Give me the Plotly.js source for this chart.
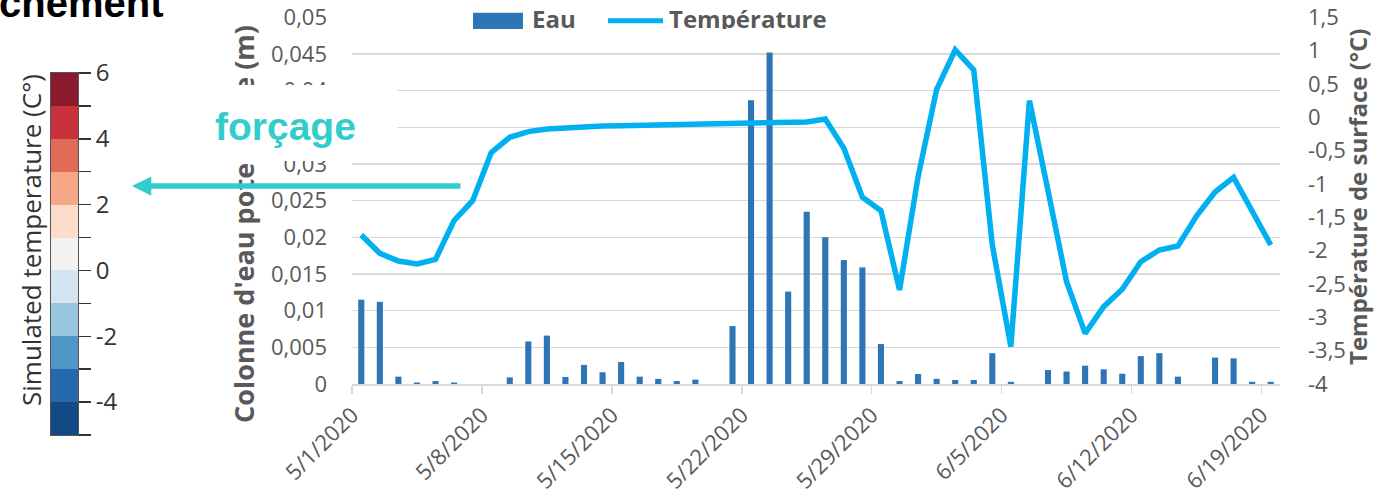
<!DOCTYPE html>
<html><head><meta charset="utf-8">
<script src="https://cdn.plot.ly/plotly-3.0.1.min.js"></script>
<style>html,body{margin:0;padding:0;background:#fff;overflow:hidden}#chart{width:1388px;height:502px}</style>
</head><body><div id="chart"></div>
<script>
const dates = ['2020-05-01','2020-05-02','2020-05-03','2020-05-04','2020-05-05','2020-05-06','2020-05-07','2020-05-08','2020-05-09','2020-05-10',
  '2020-05-11','2020-05-12','2020-05-13','2020-05-14','2020-05-15','2020-05-16','2020-05-17','2020-05-18','2020-05-19','2020-05-20',
  '2020-05-21','2020-05-22','2020-05-23','2020-05-24','2020-05-25','2020-05-26','2020-05-27','2020-05-28','2020-05-29','2020-05-30',
  '2020-05-31','2020-06-01','2020-06-02','2020-06-03','2020-06-04','2020-06-05','2020-06-06','2020-06-07','2020-06-08','2020-06-09',
  '2020-06-10','2020-06-11','2020-06-12','2020-06-13','2020-06-14','2020-06-15','2020-06-16','2020-06-17','2020-06-18','2020-06-19'];
const eau = [0.0115,0.0112,0.0010,0.0002,0.0004,0.0002,0,0,0.0009,0.0058,
  0.0066,0.00095,0.0026,0.0016,0.0030,0.0010,0.0007,0.0004,0.0006,0,
  0.0079,0.0387,0.0452,0.0126,0.0235,0.0200,0.0169,0.0159,0.00545,0.0004,
  0.00136,0.0007,0.00055,0.00055,0.0042,0.0003,0,0.0019,0.0017,0.0025,
  0.0020,0.0014,0.0038,0.0042,0.0010,0,0.0036,0.0035,0.0003,0.0003];
const temperature = [-1.765,-2.04,-2.155,-2.2,-2.13,-1.55,-1.25,-0.53,-0.3,-0.215,
  -0.175,-0.155,-0.14,-0.13,-0.125,-0.12,-0.115,-0.11,-0.11,-0.105,
  -0.105,-0.1,-0.095,-0.09,-0.07,-0.025,-0.465,-1.2,-1.4,-2.59,
  -0.89,0.42,1.01,0.71,-1.915,-3.44,0.25,-1.1,-2.465,-3.24,
  -2.84,-2.58,-2.165,-1.99,-1.93,-1.48,-1.12,-0.9,-1.415,-1.915];
const xTickVals = ['2020-05-01','2020-05-08','2020-05-15','2020-05-22','2020-05-29','2020-06-05','2020-06-12','2020-06-19'];
const xTickText = ['5/1/2020','5/8/2020','5/15/2020','5/22/2020','5/29/2020','6/5/2020','6/12/2020','6/19/2020'];
const eauTickVals = [0,0.005,0.01,0.015,0.02,0.025,0.03,0.035,0.04,0.045,0.05];
const eauTickText = ['0','0,005','0,01','0,015','0,02','0,025','0,03','0,035','0,04','0,045','0,05'];
const tempTickVals = [-4,-3.5,-3,-2.5,-2,-1.5,-1,-0.5,0,0.5,1,1.5];
const tempTickText = ['-4','-3,5','-3','-2,5','-2','-1,5','-1','-0,5','0','0,5','1','1,5'];
const cbCenters = [-4.5,-3.5,-2.5,-1.5,-0.5,0.5,1.5,2.5,3.5,4.5,5.5];
const cbColors = ['#134a86','#2569ae','#4e97c8','#9ac7e0','#d4e4f0','#f4f2f0','#fcdccb','#f6a886','#e06b57','#c8323a','#8c1a2e'];
const cbTickVals = [-5,-4,-3,-2,-1,0,1,2,3,4,5,6];
const cbTickText = ['','-4','','-2','','0','','2','','4','','6'];

const W = 1388, H = 502;
const px = x => x / W;
const py = y => 1 - y / H;
const GRAY = '#595959';
const TEAL = '#33cccc';

const cbScale = cbColors.map((c, i) => [i / (cbColors.length - 1), c]);

const traces = [
  { type: 'bar', x: dates, y: eau, name: 'Eau', xperiod: 86400000, xperiodalignment: 'middle',
    width: 0.33 * 86400000, marker: { color: '#2e75b6' }, xaxis: 'x', yaxis: 'y', hoverinfo: 'skip' },
  { type: 'scatter', mode: 'lines', x: dates, y: temperature, name: 'Température', xperiod: 86400000, xperiodalignment: 'middle',
    line: { color: '#00b0f0', width: 5.5 }, xaxis: 'x', yaxis: 'y2', hoverinfo: 'skip' },
  { type: 'heatmap', x: [0], y: cbCenters, z: cbCenters.map((v, i) => [i]), zmin: 0, zmax: cbColors.length - 1,
    colorscale: cbScale, showscale: false, xaxis: 'x2', yaxis: 'y3', hoverinfo: 'skip' }
];

const layout = {
  width: W, height: H, margin: { l: 0, r: 0, t: 0, b: 0 },
  paper_bgcolor: '#fff', plot_bgcolor: '#fff', showlegend: false,
  font: { family: 'Open Sans, sans-serif', color: GRAY, size: 22 },
  xaxis: { domain: [px(352), px(1280)], anchor: 'y', type: 'date', range: ['2020-05-01', '2020-06-20'],
    tickvals: xTickVals, ticktext: xTickText, tickangle: -45, ticks: 'outside', ticklen: 8, tickwidth: 1.5,
    tickcolor: '#d9d9d9', showline: true, linecolor: '#d9d9d9', linewidth: 1.5, showgrid: false, zeroline: false,
    tickfont: { size: 22, color: GRAY }, automargin: false },
  yaxis: { domain: [py(384), py(17.3)], anchor: 'x', range: [0, 0.05], tickvals: eauTickVals, ticktext: eauTickText,
    showgrid: true, gridcolor: '#d9d9d9', gridwidth: 1.5, zeroline: false, showline: false, ticks: '',
    ticklabelstandoff: 24, tickfont: { size: 22, color: GRAY }, automargin: false },
  yaxis2: { overlaying: 'y', side: 'right', anchor: 'x', range: [-4, 1.5], tickvals: tempTickVals, ticktext: tempTickText,
    showgrid: false, zeroline: false, showline: false, ticks: '', ticklabelstandoff: 27,
    tickfont: { size: 22, color: GRAY }, automargin: false },
  xaxis2: { domain: [px(51), px(78)], anchor: 'y3', range: [-0.5, 0.5], showticklabels: false, ticks: '',
    showgrid: false, zeroline: false, showline: true, mirror: true, linecolor: '#555', linewidth: 1, automargin: false },
  yaxis3: { domain: [py(435), py(73)], anchor: 'x2', side: 'right', range: [-5, 6], tickvals: cbTickVals, ticktext: cbTickText,
    ticks: 'outside', ticklen: 12, tickwidth: 1.5, tickcolor: '#333', showgrid: false, zeroline: false,
    showline: true, mirror: true, linecolor: '#555', linewidth: 1, tickfont: { size: 24, color: '#333' }, automargin: false },
  shapes: [
    { type: 'rect', xref: 'paper', yref: 'paper', layer: 'above', x0: px(173), x1: px(397), y0: py(161), y1: py(85),
      fillcolor: '#fff', line: { width: 0 } },
    { type: 'rect', xref: 'paper', yref: 'paper', layer: 'above', x0: px(433), x1: px(857), y0: py(29), y1: py(3),
      fillcolor: '#fff', line: { width: 0 } },
    { type: 'rect', xref: 'paper', yref: 'paper', layer: 'above', x0: px(473), x1: px(523), y0: py(29.3), y1: py(12.7),
      fillcolor: '#2e75b6', line: { width: 0 } },
    { type: 'line', xref: 'paper', yref: 'paper', layer: 'above', x0: px(608), x1: px(663), y0: py(20.7), y1: py(20.7),
      line: { color: '#00b0f0', width: 5 } }
  ],
  annotations: [
    { text: '<b>chement</b>', xref: 'paper', yref: 'paper', x: px(-3), y: py(3), xanchor: 'left', yanchor: 'middle',
      showarrow: false, font: { family: 'Liberation Sans, Arial, sans-serif', size: 40, color: '#000' } },
    { text: "<b>Colonne d'eau potentielle (m)</b>", xref: 'paper', yref: 'paper', x: px(243), y: py(224), textangle: -90,
      xanchor: 'center', yanchor: 'middle', showarrow: false, font: { size: 27, color: GRAY } },
    { text: '<b>Température de surface (°C)</b>', xref: 'paper', yref: 'paper', x: px(1357), y: py(197), textangle: -90,
      xanchor: 'center', yanchor: 'middle', showarrow: false, font: { size: 24, color: GRAY } },
    { text: 'Simulated temperature (C°)', xref: 'paper', yref: 'paper', x: px(31), y: py(240), textangle: -90,
      xanchor: 'center', yanchor: 'middle', showarrow: false, font: { size: 26, color: '#333' } },
    { text: ' ', xref: 'paper', yref: 'paper', x: px(173), y: py(85), xanchor: 'left', yanchor: 'top', width: 224, height: 76,
      bgcolor: '#fff', borderpad: 0, borderwidth: 0, showarrow: false },
    { text: '<b>forçage</b>', xref: 'paper', yref: 'paper', x: px(285), y: py(126), xanchor: 'center', yanchor: 'middle',
      showarrow: false, font: { family: 'Liberation Sans, Arial, sans-serif', size: 39, color: TEAL } },
    { text: '', xref: 'paper', yref: 'paper', x: px(132), y: py(186), ax: 330, ay: 0, showarrow: true,
      arrowhead: 2, arrowsize: 0.7, arrowwidth: 5.5, arrowcolor: TEAL, standoff: 0 },
    { text: '<b>Eau</b>', xref: 'paper', yref: 'paper', x: px(530), y: py(19), xanchor: 'left', yanchor: 'middle',
      showarrow: false, font: { size: 24, color: GRAY } },
    { text: '<b>Température</b>', xref: 'paper', yref: 'paper', x: px(667), y: py(19), xanchor: 'left', yanchor: 'middle',
      showarrow: false, font: { size: 24, color: GRAY } },
    { text: ' ', xref: 'paper', yref: 'paper', x: px(433), y: py(29.5), xanchor: 'left', yanchor: 'top', width: 424, height: 12,
      bgcolor: '#fff', borderpad: 0, borderwidth: 0, showarrow: false }
  ]
};

Plotly.newPlot('chart', traces, layout, { staticPlot: true });
</script></body></html>
